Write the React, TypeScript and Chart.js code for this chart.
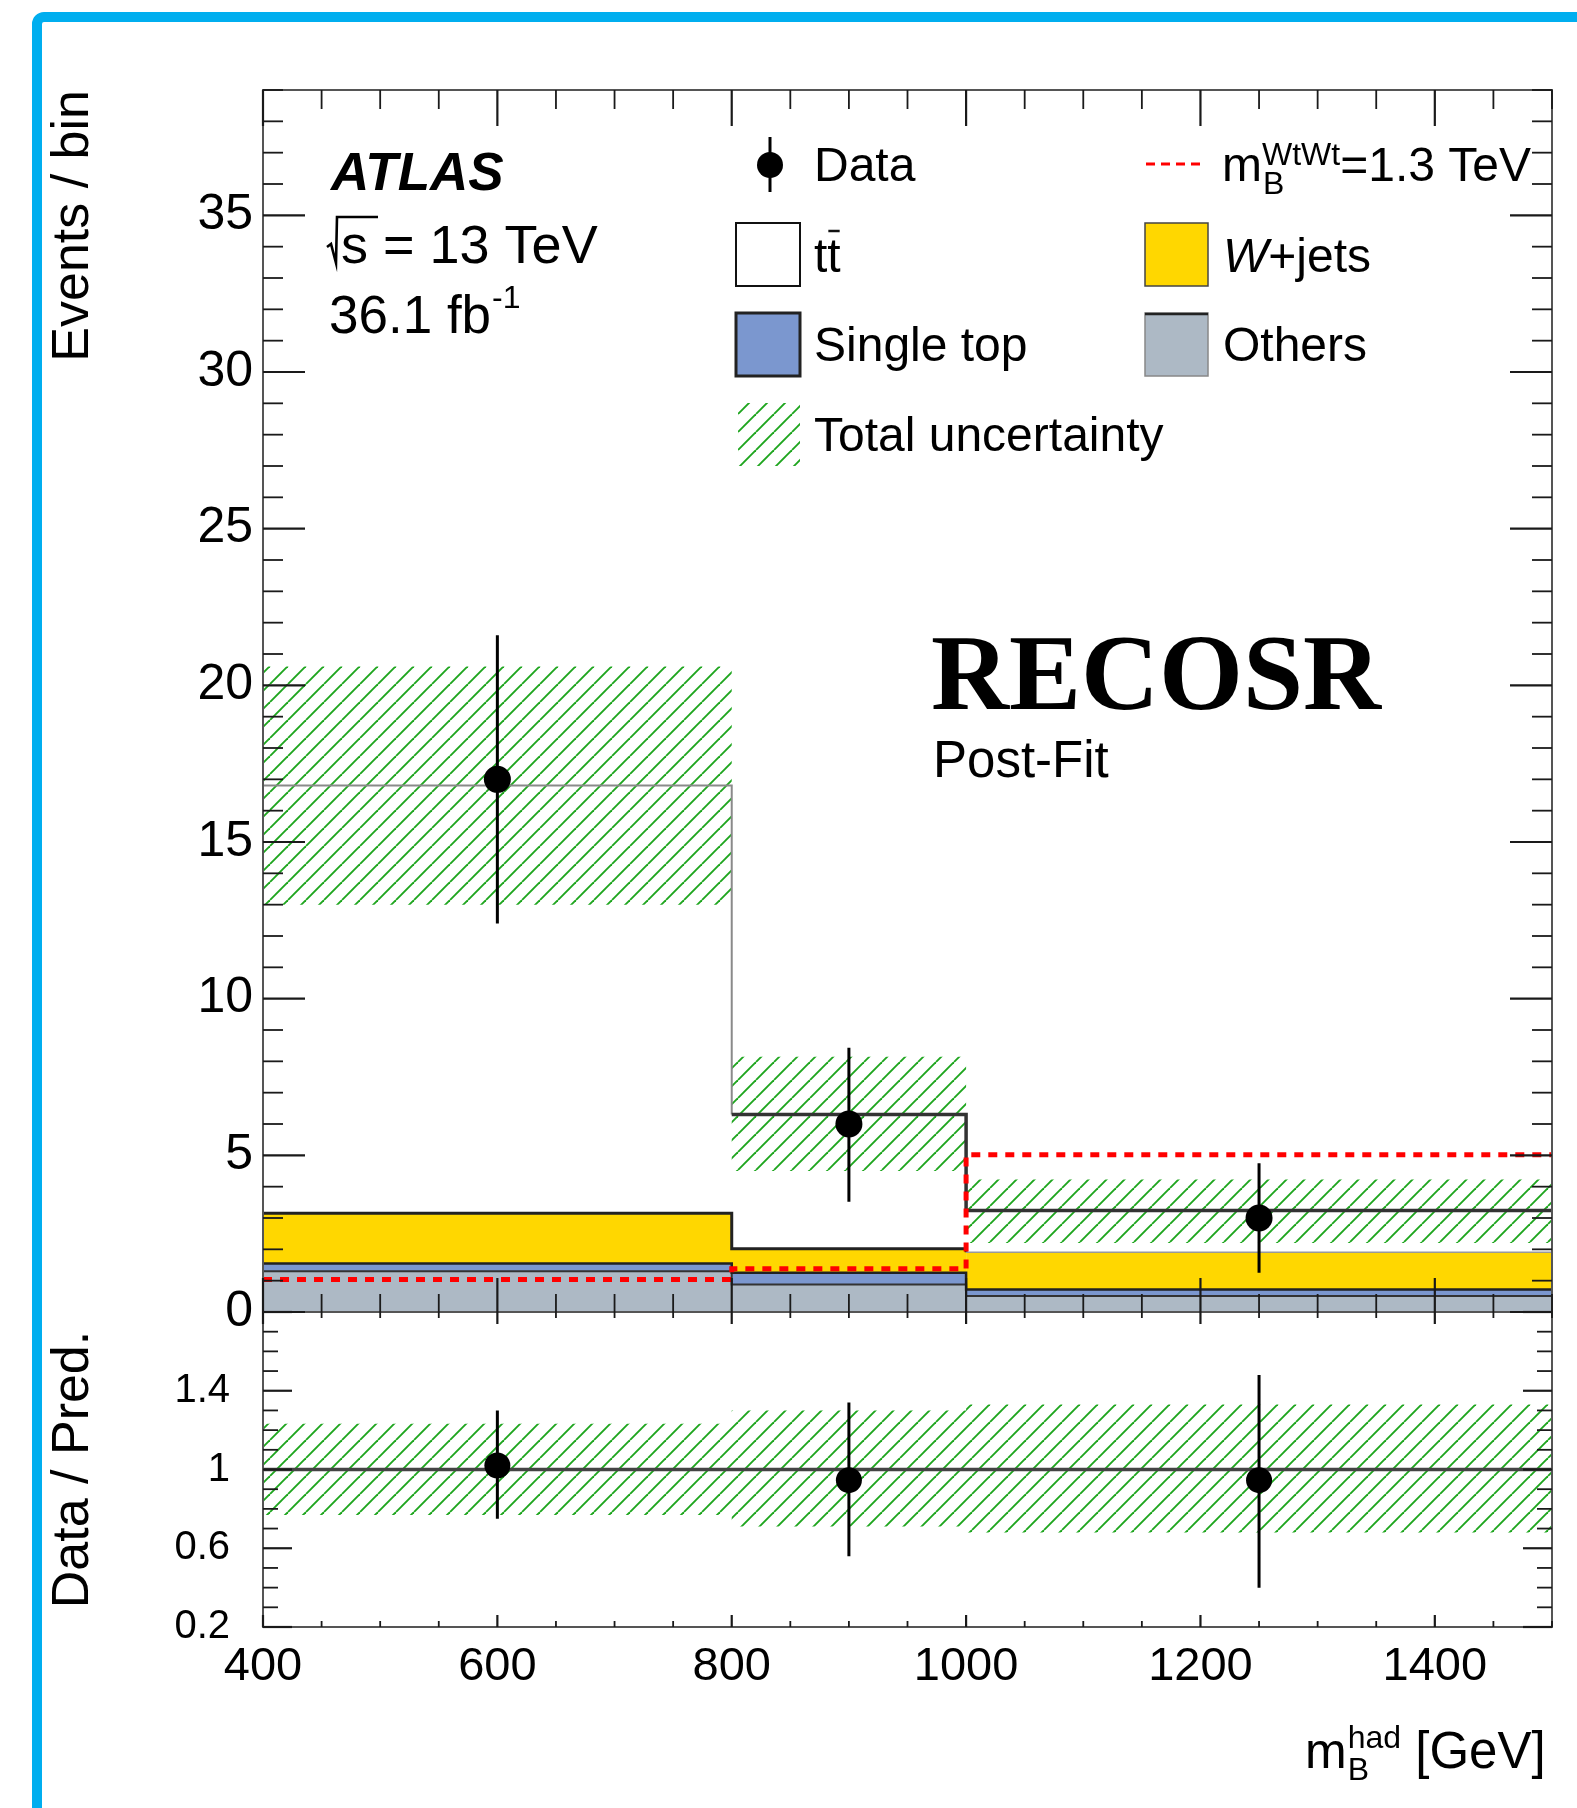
import React, { useEffect, useRef } from 'react';
import { Chart, registerables } from 'chart.js';

Chart.register(...registerables);

// ---------------- data ----------------
const BIN_EDGES = [400, 800, 1000, 1500];
const BIN_CENTERS = [600, 900, 1250];

// stacked background components (per bin)
const OTHERS = [1.3, 0.88, 0.51];
const SINGLE_TOP = [0.25, 0.37, 0.21];
const WJETS = [1.6, 0.77, 1.19];
const TTBAR = [13.65, 4.28, 1.33];

// signal m_B = 1.3 TeV (overlay)
const SIGNAL = [1.04, 1.38, 5.02];

// total uncertainty band
const UNC_LOW = [13.0, 4.5, 2.2];
const UNC_HIGH = [20.6, 8.15, 4.23];

// data
const DATA = [17, 6, 3];
const DATA_ERR_LOW = [12.4, 3.52, 1.25];
const DATA_ERR_HIGH = [21.6, 8.43, 4.75];

// ratio panel
const RATIO = [1.02, 0.946, 0.946];
const RATIO_ERR_LOW = [0.75, 0.56, 0.4];
const RATIO_ERR_HIGH = [1.3, 1.34, 1.48];
const RATIO_UNC_LOW = [0.769, 0.71, 0.68];
const RATIO_UNC_HIGH = [1.233, 1.3, 1.33];

// tick labels
const X_TICKS = [400, 600, 800, 1000, 1200, 1400];
const Y_TICKS = [0, 5, 10, 15, 20, 25, 30, 35];
const R_TICKS = [0.2, 0.6, 1, 1.4];

// ---------------- styles ----------------
const FAMILY = '"Liberation Sans", Arial, Helvetica, sans-serif';
const SERIF = '"Liberation Serif", "Times New Roman", serif';
const C_OTHERS = '#adb9c5';
const C_ST = '#7b97cf';
const C_W = '#ffd700';
const C_HATCH = 'rgb(30,165,30)';

const cumulative = (...parts: number[][]) => {
  const out: number[][] = [];
  let acc = parts[0].map(() => 0);
  for (const p of parts) {
    acc = acc.map((a, i) => a + p[i]);
    out.push(acc);
  }
  return out;
};

const steps = (vals: number[]) => [
  ...vals.map((v, i) => ({ x: BIN_EDGES[i], y: v })),
  { x: BIN_EDGES[BIN_EDGES.length - 1], y: vals[vals.length - 1] },
];

const errSegs = (xs: number[], lo: number[], hi: number[]) => {
  const out: any[] = [];
  xs.forEach((x, i) => {
    out.push({ x, y: lo[i] }, { x, y: hi[i] }, { x, y: null });
  });
  return out;
};

function makeHatch(): CanvasPattern {
  const s = 18;
  const c = document.createElement('canvas');
  c.width = s;
  c.height = s;
  const g = c.getContext('2d') as CanvasRenderingContext2D;
  g.strokeStyle = C_HATCH;
  g.lineWidth = 1.9;
  for (const k of [-s, 0, s]) {
    g.beginPath();
    g.moveTo(k, s);
    g.lineTo(k + s, 0);
    g.stroke();
  }
  return g.createPattern(c, 'repeat') as CanvasPattern;
}

const f = (size: number, style = '') => `${style} ${size}px ${FAMILY}`.trim();

export default function App() {
  const ref = useRef<HTMLCanvasElement | null>(null);

  useEffect(() => {
    const canvas = ref.current;
    if (!canvas) return;
    const hatch = makeHatch();
    const [cOthers, cSt, cW, cTt] = cumulative(OTHERS, SINGLE_TOP, WJETS, TTBAR);

    const decor = {
      id: 'decor',
      afterDraw(chart: any) {
        const ctx: CanvasRenderingContext2D = chart.ctx;
        const sx = chart.scales.x;
        const sy = chart.scales.y;
        const sr = chart.scales.yr;
        const L = sx.left;
        const R = sx.right;
        const T = sy.top;
        const M = sy.bottom;
        const B = sr.bottom;
        ctx.save();
        const line = (x1: number, y1: number, x2: number, y2: number) => {
          ctx.beginPath();
          ctx.moveTo(x1, y1);
          ctx.lineTo(x2, y2);
          ctx.stroke();
        };
        // frames
        ctx.strokeStyle = '#555';
        ctx.lineWidth = 2;
        ctx.strokeRect(L, T, R - L, M - T);
        ctx.strokeRect(L, M, R - L, B - M);
        // x ticks
        ctx.strokeStyle = '#1a1a1a';
        for (let v = 400; v <= 1500; v += 50) {
          const px = sx.getPixelForValue(v);
          const major = (v - 400) % 200 === 0;
          ctx.lineWidth = major ? 2.2 : 1.8;
          line(px, T, px, T + (major ? 36 : 19));
          line(px, M, px, M - (major ? 34 : 18));
          line(px, M, px, M + (major ? 12 : 6));
          line(px, B, px, B - (major ? 12 : 6));
        }
        // main y ticks
        for (let v = 0; v <= 39; v++) {
          const py = sy.getPixelForValue(v);
          const major = v % 5 === 0;
          ctx.lineWidth = major ? 2.2 : 1.8;
          const len = major ? 42 : 20;
          line(L, py, L + len, py);
          line(R, py, R - len, py);
        }
        // ratio y ticks
        for (let k = 2; k <= 18; k++) {
          const py = sr.getPixelForValue(k / 10);
          const major = (k - 2) % 4 === 0;
          ctx.lineWidth = major ? 2.2 : 1.8;
          const len = major ? 29 : 15;
          line(L, py, L + len, py);
          line(R, py, R - len, py);
        }

        // texts
        ctx.fillStyle = '#000';
        ctx.textAlign = 'left';
        ctx.textBaseline = 'alphabetic';
        const t = (s: string, x: number, y: number, font: string) => {
          ctx.font = font;
          ctx.fillText(s, x, y);
          return ctx.measureText(s).width;
        };

        t('ATLAS', 331, 190, f(53, 'italic bold'));
        // sqrt(s)
        ctx.strokeStyle = '#000';
        ctx.lineWidth = 2.6;
        ctx.beginPath();
        ctx.moveTo(327, 247);
        ctx.lineTo(331, 244);
        ctx.lineTo(336, 263);
        ctx.lineTo(337, 217);
        ctx.lineTo(378, 217);
        ctx.stroke();
        t('s = 13 TeV', 341, 263, f(54));
        const wl = t('36.1 fb', 329, 333, f(53));
        t('-1', 329 + wl + 1, 308, f(32));

        t('RECOSR', 931, 709, `bold 108px ${SERIF}`);
        t('Post-Fit', 933, 777, f(51));

        // legend
        // Data
        ctx.fillStyle = '#000';
        ctx.beginPath();
        ctx.arc(770, 165, 13, 0, Math.PI * 2);
        ctx.fill();
        ctx.lineWidth = 3;
        line(770, 137, 770, 192);
        t('Data', 814, 181, f(48));
        // ttbar
        ctx.fillStyle = '#fff';
        ctx.fillRect(736, 223, 64, 63);
        ctx.strokeStyle = '#111';
        ctx.lineWidth = 2;
        ctx.strokeRect(736, 223, 64, 63);
        ctx.fillStyle = '#000';
        t('tt', 814, 272, f(48));
        ctx.font = f(48);
        const tw = ctx.measureText('t').width;
        ctx.lineWidth = 2.5;
        line(814 + tw + 1, 231, 814 + 2 * tw - 1, 231);
        // single top
        ctx.fillStyle = C_ST;
        ctx.fillRect(736, 313, 64, 63);
        ctx.strokeStyle = '#222';
        ctx.lineWidth = 3;
        ctx.strokeRect(736, 313, 64, 63);
        ctx.fillStyle = '#000';
        t('Single top', 814, 361, f(48));
        // hatch
        ctx.fillStyle = hatch;
        ctx.fillRect(738, 403, 62, 63);
        ctx.fillStyle = '#000';
        t('Total uncertainty', 814, 451, f(48));
        // signal
        ctx.strokeStyle = '#ff0000';
        ctx.lineWidth = 3;
        ctx.setLineDash([9, 6]);
        line(1146, 164, 1205, 164);
        ctx.setLineDash([]);
        let xx = 1222;
        xx += t('m', xx, 181, f(48));
        const wsup = t('WtWt', xx, 165, f(32));
        t('B', xx + 1, 194, f(32));
        xx += wsup;
        t('=1.3 TeV', xx, 181, f(48));
        // W+jets
        ctx.fillStyle = C_W;
        ctx.fillRect(1145, 223, 63, 63);
        ctx.strokeStyle = '#444';
        ctx.lineWidth = 1.5;
        ctx.strokeRect(1145, 223, 63, 63);
        ctx.fillStyle = '#000';
        const ww = t('W', 1223, 272, f(48, 'italic'));
        t('+jets', 1223 + ww, 272, f(48));
        // Others
        ctx.fillStyle = C_OTHERS;
        ctx.fillRect(1145, 313, 63, 63);
        ctx.strokeStyle = '#888';
        ctx.lineWidth = 1.5;
        ctx.strokeRect(1145, 313, 63, 63);
        ctx.strokeStyle = '#222';
        ctx.lineWidth = 2.5;
        line(1145, 314, 1208, 314);
        ctx.fillStyle = '#000';
        t('Others', 1223, 361, f(48));

        // x title
        let xt = 1305;
        xt += t('m', xt, 1768, f(50));
        const wh = t('had', xt + 1, 1748, f(32));
        t('B', xt + 1, 1780, f(32));
        xt += wh + 1;
        t(' [GeV]', xt, 1768, f(51));

        ctx.restore();
      },
    };

    const STEP = 'before';

    const chart = new Chart(canvas, {
      type: 'line',
      data: {
        datasets: [
          {
            label: 'Others',
            data: steps(cOthers),
            stepped: STEP,
            yAxisID: 'y',
            fill: 'origin',
            backgroundColor: C_OTHERS,
            borderColor: '#333',
            borderWidth: 2,
            pointRadius: 0,
            order: 20,
          },
          {
            label: 'Single top',
            data: steps(cSt),
            stepped: STEP,
            yAxisID: 'y',
            fill: '-1',
            backgroundColor: C_ST,
            borderColor: '#222',
            borderWidth: 2.5,
            pointRadius: 0,
            order: 19,
          },
          {
            label: 'W+jets',
            data: steps(cW),
            stepped: STEP,
            yAxisID: 'y',
            fill: '-1',
            backgroundColor: C_W,
            borderColor: '#222',
            borderWidth: 3,
            pointRadius: 0,
            segment: {
              borderColor: (c: any) => (c.p0DataIndex === 2 ? '#999' : '#222'),
              borderWidth: (c: any) => (c.p0DataIndex === 2 ? 1.5 : 3),
            },
            order: 18,
          },
          {
            label: 'ttbar',
            data: steps(cTt),
            stepped: STEP,
            yAxisID: 'y',
            fill: '-1',
            backgroundColor: '#ffffff',
            borderColor: '#333',
            borderWidth: 3.5,
            pointRadius: 0,
            segment: {
              borderColor: (c: any) => (c.p0DataIndex === 0 ? '#8a8a8a' : '#333'),
              borderWidth: (c: any) => (c.p0DataIndex === 0 ? 2 : 3.5),
            },
            order: 17,
          },
          {
            label: 'unc-low',
            data: steps(UNC_LOW),
            stepped: STEP,
            yAxisID: 'y',
            fill: false,
            borderColor: 'rgba(0,0,0,0)',
            borderWidth: 0,
            pointRadius: 0,
            order: 16,
          },
          {
            label: 'Total uncertainty',
            data: steps(UNC_HIGH),
            stepped: STEP,
            yAxisID: 'y',
            fill: '-1',
            backgroundColor: hatch,
            borderColor: 'rgba(0,0,0,0)',
            borderWidth: 0,
            pointRadius: 0,
            order: 15,
          },
          {
            label: 'signal',
            data: steps(SIGNAL),
            stepped: STEP,
            yAxisID: 'y',
            fill: false,
            borderColor: '#ff0000',
            borderWidth: 5,
            borderDash: [9, 8],
            pointRadius: 0,
            order: 10,
          },
          {
            label: 'data-err',
            data: errSegs(BIN_CENTERS, DATA_ERR_LOW, DATA_ERR_HIGH),
            yAxisID: 'y',
            fill: false,
            spanGaps: false,
            borderColor: '#000',
            borderWidth: 3,
            pointRadius: 0,
            order: 9,
          },
          {
            label: 'Data',
            data: BIN_CENTERS.map((x, i) => ({ x, y: DATA[i] })),
            yAxisID: 'y',
            showLine: false,
            fill: false,
            pointRadius: 13.5,
            pointBackgroundColor: '#000',
            pointBorderWidth: 0,
            order: 8,
          },
          {
            label: 'ratio-unc-low',
            data: steps(RATIO_UNC_LOW),
            stepped: STEP,
            yAxisID: 'yr',
            fill: false,
            borderColor: 'rgba(0,0,0,0)',
            borderWidth: 0,
            pointRadius: 0,
            order: 7,
          },
          {
            label: 'ratio-unc-high',
            data: steps(RATIO_UNC_HIGH),
            stepped: STEP,
            yAxisID: 'yr',
            fill: '-1',
            backgroundColor: hatch,
            borderColor: 'rgba(0,0,0,0)',
            borderWidth: 0,
            pointRadius: 0,
            order: 6,
          },
          {
            label: 'unity',
            data: [
              { x: BIN_EDGES[0], y: 1 },
              { x: BIN_EDGES[BIN_EDGES.length - 1], y: 1 },
            ],
            yAxisID: 'yr',
            fill: false,
            borderColor: '#444',
            borderWidth: 3.5,
            pointRadius: 0,
            order: 5,
          },
          {
            label: 'ratio-err',
            data: errSegs(BIN_CENTERS, RATIO_ERR_LOW, RATIO_ERR_HIGH),
            yAxisID: 'yr',
            fill: false,
            spanGaps: false,
            borderColor: '#000',
            borderWidth: 3,
            pointRadius: 0,
            order: 4,
          },
          {
            label: 'ratio',
            data: BIN_CENTERS.map((x, i) => ({ x, y: RATIO[i] })),
            yAxisID: 'yr',
            showLine: false,
            fill: false,
            pointRadius: 13,
            pointBackgroundColor: '#000',
            pointBorderWidth: 0,
            order: 3,
          },
        ] as any,
      },
      options: {
        animation: false,
        responsive: false,
        devicePixelRatio: 1,
        events: [],
        layout: { padding: { left: 0, top: 90, right: 25, bottom: 0 } },
        elements: { line: { tension: 0 } },
        plugins: {
          legend: { display: false },
          tooltip: { enabled: false },
          filler: { drawTime: 'beforeDatasetsDraw', propagate: false },
        } as any,
        scales: {
          x: {
            type: 'linear',
            position: 'bottom',
            min: 400,
            max: 1500,
            grid: { display: false, drawTicks: false },
            border: { display: false },
            afterBuildTicks: (s: any) => {
              s.ticks = X_TICKS.map((v) => ({ value: v }));
            },
            afterFit: (s: any) => {
              s.height = 181;
            },
            ticks: {
              padding: 12,
              color: '#000',
              autoSkip: false,
              maxRotation: 0,
              font: { family: FAMILY, size: 47 },
              callback: (v: any) => String(v),
            },
          },
          y: {
            type: 'linear',
            position: 'left',
            stack: 'panels',
            stackWeight: 1222,
            weight: 2,
            min: 0,
            max: 39,
            grid: { display: false, drawTicks: false },
            border: { display: false },
            afterBuildTicks: (s: any) => {
              s.ticks = Y_TICKS.map((v) => ({ value: v }));
            },
            afterFit: (s: any) => {
              s.width = 263;
            },
            ticks: {
              padding: 10,
              color: '#000',
              autoSkip: false,
              font: { family: FAMILY, size: 50 },
              callback: (v: any) => String(v),
            },
            title: {
              display: true,
              text: 'Events / bin',
              align: 'end',
              color: '#000',
              font: { family: FAMILY, size: 52 },
              padding: { top: 42, bottom: 0 },
            },
          },
          yr: {
            type: 'linear',
            position: 'left',
            stack: 'panels',
            stackWeight: 315,
            weight: 1,
            min: 0.2,
            max: 1.8,
            grid: { display: false, drawTicks: false },
            border: { display: false },
            afterBuildTicks: (s: any) => {
              s.ticks = R_TICKS.map((v) => ({ value: v }));
            },
            afterFit: (s: any) => {
              s.width = 263;
            },
            ticks: {
              padding: 33,
              color: '#000',
              autoSkip: false,
              font: { family: FAMILY, size: 40 },
              callback: (v: any) => String(v),
            },
            title: {
              display: true,
              text: 'Data / Pred.',
              align: 'center',
              color: '#000',
              font: { family: FAMILY, size: 52 },
              padding: { top: 42, bottom: 0 },
            },
          },
        } as any,
      },
      plugins: [decor],
    });

    return () => {
      chart.destroy();
    };
  }, []);

  return (
    <div
      style={{
        position: 'absolute',
        left: 0,
        top: 0,
        width: 1577,
        height: 1808,
        overflow: 'hidden',
        background: '#fff',
      }}
    >
      <div
        style={{
          position: 'absolute',
          left: 32,
          top: 12,
          width: 1640,
          height: 1900,
          border: '10px solid #00AEEF',
          borderRadius: 12,
          boxSizing: 'border-box',
        }}
      />
      <canvas
        ref={ref}
        width={1577}
        height={1808}
        style={{ position: 'absolute', left: 0, top: 0, width: 1577, height: 1808 }}
      />
    </div>
  );
}
